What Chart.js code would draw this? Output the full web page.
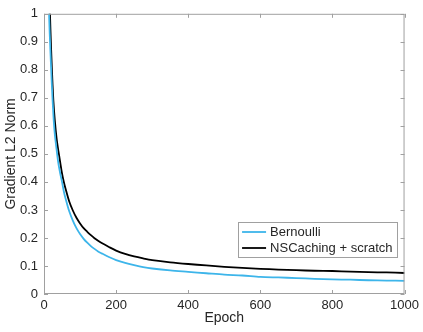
<!DOCTYPE html>
<html>
<head>
<meta charset="utf-8">
<script src="https://cdn.jsdelivr.net/npm/chart.js@4.4.1/dist/chart.umd.min.js"></script>
<style>
    html, body { margin: 0; padding: 0; background: #fff; }
    #wrap { position: relative; width: 423px; height: 332px; }
</style>
</head>
<body>
<div id="wrap"><canvas id="gradChart"></canvas></div>
<script>
const epochs = [
    10, 14, 18, 22, 26, 30, 35, 40, 45, 50, 55, 60, 70, 80, 90, 100, 110, 120, 130, 140,
    150, 160, 180, 200, 225, 250, 275, 300, 350, 400, 450, 500, 550, 600, 650, 700, 750,
    800, 850, 900, 950, 1000,
];

const bernoulli = [
    1.25, 1.0, 0.86, 0.74, 0.64, 0.57, 0.515, 0.465, 0.43, 0.4, 0.366, 0.34, 0.295, 0.262,
    0.235, 0.214, 0.197, 0.183, 0.171, 0.161, 0.152, 0.145, 0.132, 0.121, 0.111, 0.103,
    0.096, 0.091, 0.084, 0.079, 0.074, 0.069, 0.066, 0.061, 0.059, 0.057, 0.054, 0.052,
    0.051, 0.049, 0.048, 0.047,
];

const nsCaching = [
    1.35, 1.12, 0.94, 0.8, 0.69, 0.62, 0.555, 0.51, 0.47, 0.43, 0.4, 0.375, 0.33, 0.298,
    0.272, 0.252, 0.235, 0.222, 0.21, 0.199, 0.19, 0.182, 0.168, 0.155, 0.143, 0.134,
    0.127, 0.121, 0.113, 0.107, 0.102, 0.097, 0.093, 0.09, 0.087, 0.085, 0.083, 0.082,
    0.08, 0.078, 0.077, 0.075,
];

const seriesLabels = ['Bernoulli', 'NSCaching + scratch'];
const xTicks = [0, 200, 400, 600, 800, 1000];
const yTicks = [0, 0.1, 0.2, 0.3, 0.4, 0.5, 0.6, 0.7, 0.8, 0.9, 1];

const colors = {
    bernoulli: '#3db5ea',
    nsCaching: '#000000',
    frame: '#a0a0a0',
    text: '#262626',
};

const fontFamily = '"Liberation Sans", Arial, sans-serif';

function toPoints(values) {
    return epochs.map((x, i) => ({ x, y: values[i] }));
}

// MATLAB-style frame with inward ticks on all four sides
const framePlugin = {
    id: 'frame',
    afterDatasetsDraw(chart) {
        const { ctx, chartArea: a, scales } = chart;
        ctx.save();
        ctx.strokeStyle = colors.frame;
        ctx.lineWidth = 1;
        ctx.strokeRect(a.left + 0.5, a.top + 0.5, a.right - a.left - 1, a.bottom - a.top - 1);
        ctx.beginPath();
        xTicks.forEach((v) => {
            const px = Math.round(scales.x.getPixelForValue(v)) + 0.5;
            ctx.moveTo(px, a.bottom);
            ctx.lineTo(px, a.bottom - 4);
            ctx.moveTo(px, a.top);
            ctx.lineTo(px, a.top + 4);
        });
        yTicks.forEach((v) => {
            const py = Math.round(scales.y.getPixelForValue(v)) + 0.5;
            ctx.moveTo(a.left, py);
            ctx.lineTo(a.left + 4, py);
            ctx.moveTo(a.right, py);
            ctx.lineTo(a.right - 4, py);
        });
        ctx.stroke();
        ctx.restore();
    },
};

// boxed legend in the lower right of the plot
const boxLegendPlugin = {
    id: 'boxLegend',
    afterDraw(chart) {
        const { ctx, chartArea: a } = chart;
        const sets = chart.data.datasets;
        ctx.save();
        ctx.font = '13px ' + fontFamily;
        const textW = Math.max(...sets.map((d) => ctx.measureText(d.label).width));
        const w = 4 + 24 + 4 + textW + 5;
        const rowH = 16;
        const h = rowH * sets.length + 3;
        const x = a.right - 7 - w;
        const y = a.bottom - 37 - h;
        ctx.fillStyle = '#fff';
        ctx.fillRect(x, y, w, h);
        ctx.strokeStyle = colors.frame;
        ctx.lineWidth = 1;
        ctx.strokeRect(Math.round(x) + 0.5, Math.round(y) + 0.5, Math.round(w), Math.round(h));
        sets.forEach((d, i) => {
            const cy = y + 2 + rowH * i + rowH / 2;
            ctx.strokeStyle = d.borderColor;
            ctx.lineWidth = 1.8;
            ctx.beginPath();
            ctx.moveTo(x + 4, cy);
            ctx.lineTo(x + 28, cy);
            ctx.stroke();
            ctx.fillStyle = colors.text;
            ctx.textBaseline = 'middle';
            ctx.fillText(d.label, x + 32, cy + 0.5);
        });
        ctx.restore();
    },
};

new Chart(document.getElementById('gradChart'), {
    type: 'line',
    data: {
        datasets: [
            {
                label: seriesLabels[0],
                data: toPoints(bernoulli),
                borderColor: colors.bernoulli,
                borderWidth: 1.8,
                pointRadius: 0,
                tension: 0.3,
            },
            {
                label: seriesLabels[1],
                data: toPoints(nsCaching),
                borderColor: colors.nsCaching,
                borderWidth: 1.8,
                pointRadius: 0,
                tension: 0.3,
            },
        ],
    },
    options: {
        responsive: true,
        maintainAspectRatio: false,
        animation: false,
        layout: { padding: { top: 10, right: 18, left: 0, bottom: 0 } },
        scales: {
            x: {
                type: 'linear',
                min: 0,
                max: 1000,
                afterFit(scale) { scale.height = 38; },
                afterBuildTicks(scale) { scale.ticks = xTicks.map((value) => ({ value })); },
                grid: { display: false, drawTicks: false },
                border: { display: false },
                ticks: {
                    color: colors.text,
                    font: { family: fontFamily, size: 13 },
                    padding: 4,
                    maxRotation: 0,
                    callback: (v) => String(v),
                },
                title: {
                    display: true,
                    text: 'Epoch',
                    color: colors.text,
                    font: { family: fontFamily, size: 14 },
                    padding: { top: 0, bottom: 5 },
                },
            },
            y: {
                min: 0,
                max: 1,
                afterFit(scale) { scale.width = 44; },
                afterBuildTicks(scale) { scale.ticks = yTicks.map((value) => ({ value })); },
                grid: { display: false, drawTicks: false },
                border: { display: false },
                ticks: {
                    color: colors.text,
                    font: { family: fontFamily, size: 13 },
                    padding: 6,
                    callback: (v) => String(Math.round(v * 10) / 10),
                },
                title: {
                    display: true,
                    text: 'Gradient L2 Norm',
                    color: colors.text,
                    font: { family: fontFamily, size: 14 },
                    padding: { top: 3, bottom: 0 },
                },
            },
        },
        plugins: {
            legend: { display: false },
            tooltip: { enabled: false },
        },
    },
    plugins: [framePlugin, boxLegendPlugin],
});
</script>
</body>
</html>
